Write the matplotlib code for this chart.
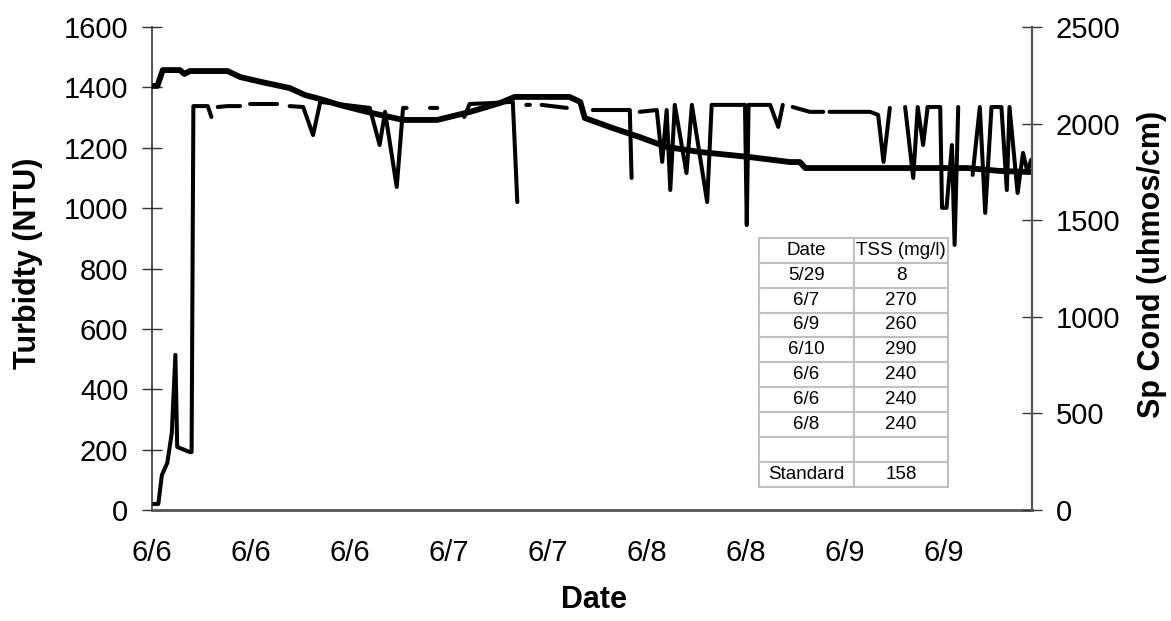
import numpy as np
import matplotlib.pyplot as plt

plt.rcParams['font.family'] = ['Liberation Sans', 'DejaVu Sans']

nan = np.nan

# Turbidez (NTU), horas desde o inicio; nan = falha no registro
turb_h = [0.0, 0.7, 1.1, 1.7, 2.2, 2.6, 2.8, 4.2, 4.4, 4.6, 6.2, 6.6, nan,
          7.3, 8.4, 9.8, nan,
          10.9, 13.9, nan,
          15.3, 16.8, 17.9, 18.7, 21.4, 24.2, 25.3, 25.9, 27.2, 27.9, 28.3, nan,
          30.9, 31.7, nan,
          34.7, 35.3, 37.6, 40.1, 40.6, nan,
          41.6, 42.0, nan,
          43.3, 46.1, nan,
          49.0, 53.1, 53.3, nan,
          54.2, 56.1, 56.7, 57.2, 57.6, 58.1, 59.4, 60.0, 61.7, 62.2, 65.9, 66.1,
          66.3, 68.3, 68.7, 69.6, 70.1, nan,
          71.2, 73.1, 74.6, nan,
          75.3, 79.8, 80.7, 81.3, 82.0, nan,
          83.7, 84.6, 85.1, 85.7, 86.2, 87.6, 87.8, 88.3, 88.9, 89.2, 89.6, nan,
          91.2, 92.0, 92.6, 93.3, 94.4, 95.0, 95.3, 96.2, 96.8, 97.3, 97.7]
turb = [20, 20, 116, 156, 255, 514, 209, 192, 192, 1338, 1338, 1302, nan,
        1335, 1338, 1338, nan,
        1345, 1345, nan,
        1338, 1335, 1242, 1352, 1342, 1332, 1209, 1319, 1070, 1332, 1332, nan,
        1332, 1332, nan,
        1302, 1345, 1348, 1352, 1020, nan,
        1342, 1342, nan,
        1342, 1332, nan,
        1325, 1325, 1100, nan,
        1319, 1325, 1153, 1325, 1060, 1342, 1116, 1342, 1020, 1342, 1342, 944,
        1342, 1342, 1342, 1269, 1342, nan,
        1335, 1319, 1319, nan,
        1319, 1319, 1309, 1153, 1332, nan,
        1335, 1100, 1335, 1209, 1335, 1335, 1001, 1001, 1209, 878, 1335, nan,
        1110, 1335, 984, 1335, 1335, 1060, 1335, 1050, 1183, 1120, 1160]

# Condutividade especifica (uhmos/cm)
cond_h = [0.0, 0.6, 1.2, 3.1, 3.6, 4.2, 8.4, 9.8, 12.2, 15.3, 17.0, 18.7, 20.9,
          23.1, 24.4, 27.9, 31.7, 35.3, 38.7, 40.3, 46.4, 47.6, 48.1, 51.2,
          54.2, 57.2, 60.9, 66.4, 70.9, 72.0, 72.6, 90.6, 94.2, 97.8]
cond = [2195, 2195, 2277, 2277, 2257, 2272, 2272, 2241, 2215, 2184, 2148, 2127,
        2096, 2070, 2055, 2019, 2019, 2060, 2107, 2138, 2138, 2112, 2029, 1977,
        1930, 1879, 1853, 1827, 1801, 1801, 1770, 1770, 1755, 1749]

tick_h = [0, 11, 22, 33, 44, 55, 66, 77, 88]
tick_lbl = ['6/6', '6/6', '6/6', '6/7', '6/7', '6/8', '6/8', '6/9', '6/9']

# Tabela de TSS
tab_cols = ['Date', 'TSS (mg/l)']
tab_date = ['5/29', '6/7', '6/9', '6/10', '6/6', '6/6', '6/8', '', 'Standard']
tab_tss = ['8', '270', '260', '290', '240', '240', '240', '', '158']

fig = plt.figure(figsize=(11.71, 6.21), dpi=100)
ax = fig.add_axes([152/1171, 1 - 510/621, 880/1171, 483/621])
ax2 = ax.twinx()

ax.plot(turb_h, turb, color='black', lw=2.9, solid_joinstyle='round',
        solid_capstyle='round')
ax2.plot(cond_h, cond, color='black', lw=4.2, solid_joinstyle='round',
         solid_capstyle='round')

ax.set_xlim(0, 97.8)
ax.set_ylim(0, 1600)
ax2.set_ylim(0, 2500)
ax.set_yticks(np.arange(0, 1601, 200))
ax2.set_yticks(np.arange(0, 2501, 500))
ax.set_xticks(tick_h)
ax.set_xticklabels(tick_lbl)

ax.tick_params(axis='y', direction='inout', length=14, width=1, pad=10,
               labelsize=21, color='#333333')
ax2.tick_params(axis='y', direction='inout', length=14, width=1, pad=10,
                labelsize=21, color='#333333')
ax.tick_params(axis='x', length=0, pad=21, labelsize=21)

for s in ['top', 'right']:
    ax.spines[s].set_visible(False)
for s in ['top', 'left', 'bottom']:
    ax2.spines[s].set_visible(False)
ax.spines['left'].set_color('#333333')
ax.spines['left'].set_linewidth(1.2)
ax.spines['bottom'].set_color('#555555')
ax.spines['bottom'].set_linewidth(2)
ax2.spines['right'].set_color('#555555')
ax2.spines['right'].set_linewidth(1.6)

fig.text(28/1171, 1 - 263/621, 'Turbidty (NTU)', rotation=90, ha='center',
         va='center', fontsize=22, fontweight='bold')
fig.text(1152/1171, 1 - 264/621, 'Sp Cond (uhmos/cm)', rotation=90,
         ha='center', va='center', fontsize=22, fontweight='bold')
fig.text(594/1171, 1 - 600/621, 'Date', ha='center', va='center',
         fontsize=22, fontweight='bold')

linhas = [[d, t] for d, t in zip(tab_date, tab_tss)]
tab = ax2.table(cellText=linhas, colLabels=tab_cols, cellLoc='center',
                bbox=[0.690, 0.047, 0.215, 0.517], zorder=5)
tab.auto_set_font_size(False)
tab.set_fontsize(13.5)
for cell in tab.get_celld().values():
    cell.set_edgecolor('#c0c0c0')
    cell.set_linewidth(1.5)
    cell.set_facecolor('white')

fig.savefig('out.png', dpi=100)
